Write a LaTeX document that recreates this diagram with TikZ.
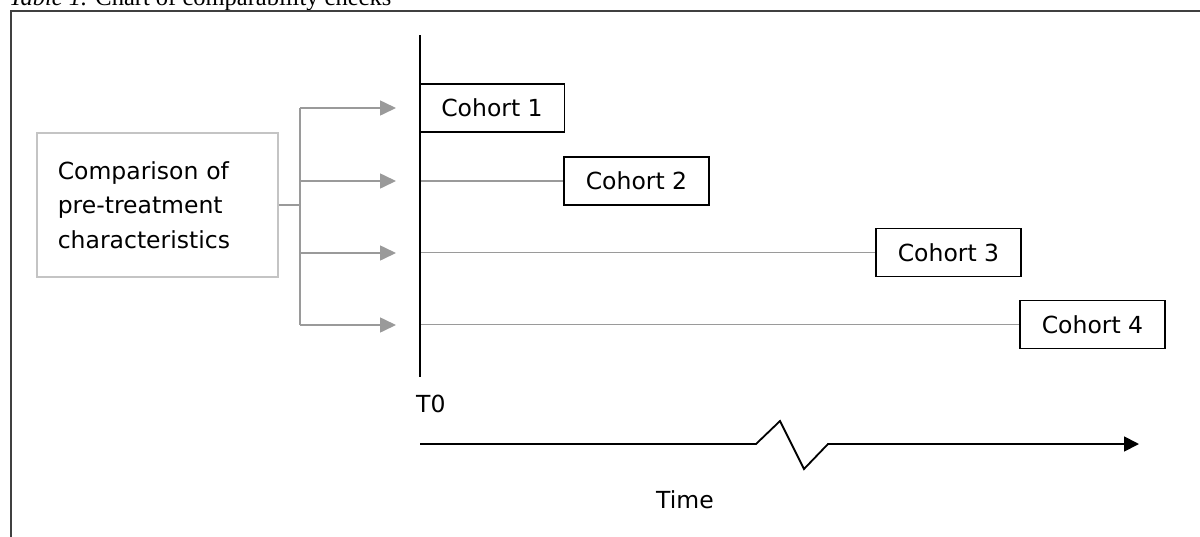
\documentclass[tikz,border=0pt]{standalone}
\usepackage{fontspec}
\setmainfont{DejaVu Sans}
\newfontfamily\titlefont{Liberation Serif}
\usetikzlibrary{arrows.meta}
\definecolor{framegray}{HTML}{404040}
\definecolor{linegray}{HTML}{9A9A9A}
\definecolor{boxgray}{HTML}{C4C4C4}
\begin{document}
\begin{tikzpicture}[x=1pt,y=-1pt,
  every node/.style={font=\fontsize{23.5}{34.5}\selectfont},
  cohort/.style={draw=black,line width=1.4pt,minimum width=145pt,minimum height=48pt,inner sep=0pt},
  graybox/.style={draw=boxgray,line width=1.6pt,minimum width=241pt,minimum height=144pt,inner xsep=21pt,text width=199pt,align=left,anchor=north west},
  grayline/.style={draw=linegray,line width=1.6pt},
  grayarrow/.style={grayline,-{Triangle[length=16pt,width=15pt]}},
  blackline/.style={draw=black,line width=1.8pt},
  blackarrow/.style={blackline,-{Triangle[length=15pt,width=15pt]}},
  frameline/.style={draw=framegray,line width=2.2pt}
]
\useasboundingbox (0,0) rectangle (1200,536);
% title (partly cut by the page edge)
\node[anchor=base west,inner sep=0pt,font=\titlefont\fontsize{24.5}{28}\selectfont] (title) at (9,5) {\textit{Table 1.} Chart of comparability checks};
% frame
\coordinate (fbl) at (11,540);
\coordinate (ftl) at (11,11);
\coordinate (ftr) at (1205,11);
\draw[frameline] (fbl) -- (ftl) -- (ftr);
% left box
\node[graybox] (cmp) at (36,132) {Comparison of\\pre-treatment\\characteristics};
% tree
\coordinate (jtop) at (300,108);
\coordinate (jbot) at (300,325);
\coordinate (a1) at (396,108);
\coordinate (a2) at (396,181);
\coordinate (a3) at (396,253);
\coordinate (a4) at (396,325);
\draw[grayline] (cmp.east) -- (cmp.east -| jtop);
\draw[grayline] (jtop) -- (jbot);
\draw[grayarrow] (jtop) -- (a1);
\draw[grayarrow] (jtop |- a2) -- (a2);
\draw[grayarrow] (jtop |- a3) -- (a3);
\draw[grayarrow] (jbot) -- (a4);
% cohorts
\node[cohort] (c1) at (492,108) {Cohort 1};
\node[cohort] (c2) at (636.5,181) {Cohort 2};
\node[cohort] (c3) at (948.5,252.5) {Cohort 3};
\node[cohort] (c4) at (1092.5,324.5) {Cohort 4};
% T0 line
\coordinate (ttop) at (420,35);
\coordinate (tbot) at (420,377);
\draw[grayline] (ttop |- c2.west) -- (c2.west);
\draw[grayline] (ttop |- c3.west) -- (c3.west);
\draw[grayline] (ttop |- c4.west) -- (c4.west);
\draw[blackline] (ttop) -- (tbot);
\node[anchor=base west,inner sep=0pt] (t0) at (416,412) {T0};
% time axis
\coordinate (ts) at (420,444);
\coordinate (z1) at (756,444);
\coordinate (z2) at (780,421);
\coordinate (z3) at (804,469);
\coordinate (z4) at (828,444);
\coordinate (te) at (1139,444);
\draw[blackarrow,line join=miter] (ts) -- (z1) -- (z2) -- (z3) -- (z4) -- (te);
\node[anchor=base west,inner sep=0pt] (time) at (656,508) {Time};
\end{tikzpicture}
\end{document}
